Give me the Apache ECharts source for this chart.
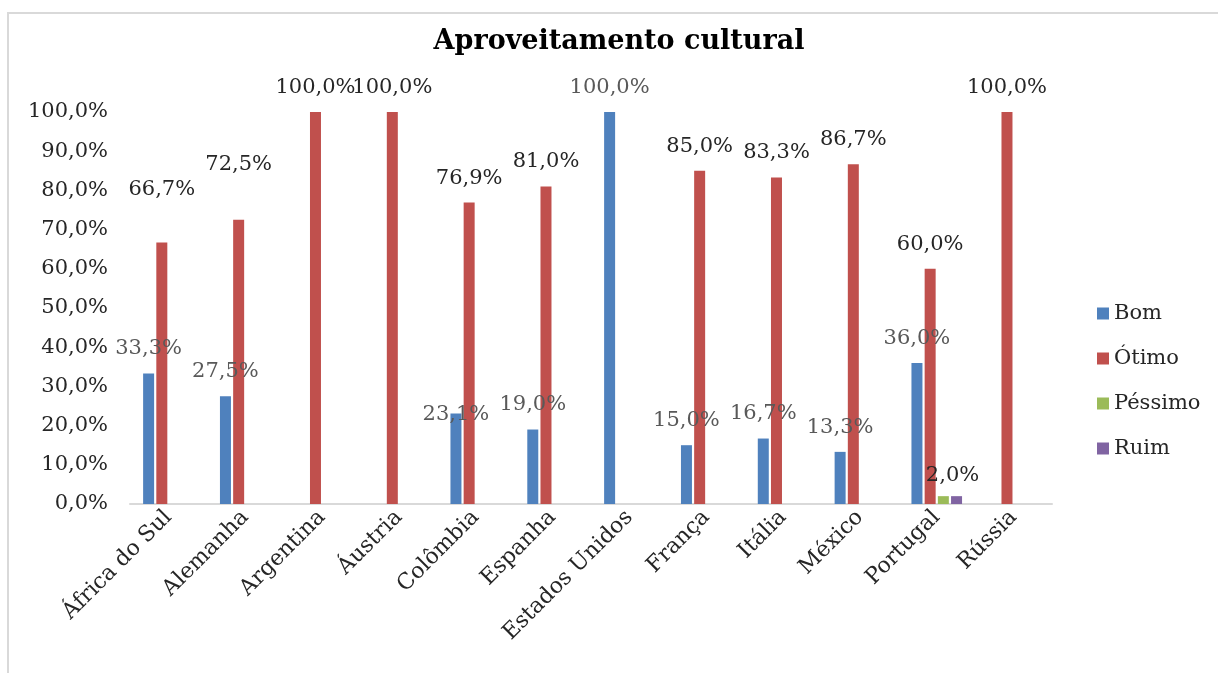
<!DOCTYPE html>
<html>
<head>
<meta charset="utf-8">
<title>Aproveitamento cultural</title>
<script src="https://cdn.jsdelivr.net/npm/echarts@6/dist/echarts.min.js"></script>
<style>
  html, body { margin: 0; padding: 0; background: #fff; }
  #frame { position: absolute; left: 7px; top: 12px; width: 1240px; height: 700px; border: 2px solid #d9d9d9; }
  #main { position: absolute; left: 0; top: 0; width: 1218px; height: 673px; }
</style>
</head>
<body>
<div id="frame"></div>
<div id="main"></div>
<script>
// dados do gráfico
var paises = ['África do Sul', 'Alemanha', 'Argentina', 'Áustria', 'Colômbia', 'Espanha',
  'Estados Unidos', 'França', 'Itália', 'México', 'Portugal', 'Rússia'];
var bom = [33.3, 27.5, null, null, 23.1, 19.0, 100.0, 15.0, 16.7, 13.3, 36.0, null];
var otimo = [66.7, 72.5, 100.0, 100.0, 76.9, 81.0, null, 85.0, 83.3, 86.7, 60.0, 100.0];
var pessimo = [null, null, null, null, null, null, null, null, null, null, 2.0, null];
var ruim = [null, null, null, null, null, null, null, null, null, null, 2.0, null];
var yTicks = [0, 10, 20, 30, 40, 50, 60, 70, 80, 90, 100];

var fonte = '"DejaVu Serif", "Liberation Serif", serif';

function pct(v) {
  return v.toFixed(1).replace('.', ',') + '%';
}

// monta os itens; alguns rótulos foram deslocados à mão no original
function itens(valores, ajustes) {
  return valores.map(function (v, i) {
    if (v == null) return null;
    var item = { value: v };
    if (ajustes && ajustes[i]) item.label = { offset: ajustes[i] };
    return item;
  });
}

var myChart = echarts.init(document.getElementById('main'));

var rotulo = {
  show: true,
  position: 'top',
  distance: 14,
  fontFamily: fonte,
  fontSize: 21,
  formatter: function (p) { return pct(p.value); }
};

myChart.setOption({
  animation: false,
  title: {
    text: 'Aproveitamento cultural',
    left: 614,
    textAlign: 'center',
    top: 23,
    textStyle: { fontFamily: fonte, fontWeight: 'bold', fontSize: 27, color: '#000' }
  },
  legend: {
    orient: 'vertical',
    left: 1092,
    top: 298,
    itemWidth: 12,
    itemHeight: 12,
    itemGap: 24,
    icon: 'rect',
    textStyle: { fontFamily: fonte, fontSize: 21, color: '#262626' },
    data: ['Bom', 'Ótimo', 'Péssimo', 'Ruim']
  },
  grid: { left: 130, right: 166, top: 112, bottom: 169, containLabel: false },
  xAxis: {
    type: 'category',
    data: paises,
    axisLine: { lineStyle: { color: '#d9d9d9', width: 2 } },
    axisTick: { show: false },
    axisLabel: {
      rotate: 45,
      interval: 0,
      margin: 10,
      fontFamily: fonte,
      fontSize: 22,
      color: '#262626'
    }
  },
  yAxis: {
    type: 'value',
    min: yTicks[0],
    max: yTicks[yTicks.length - 1],
    interval: 10,
    splitLine: { show: false },
    axisLine: { show: false },
    axisTick: { show: false },
    axisLabel: {
      margin: 22,
      fontFamily: fonte,
      fontSize: 21,
      color: '#262626',
      formatter: function (v) { return pct(v); }
    }
  },
  series: [
    {
      name: 'Bom', type: 'bar', barWidth: 11, barGap: '20%',
      itemStyle: { color: '#4f81bd' },
      label: Object.assign({}, rotulo, { color: '#595959' }),
      data: itens(bom, { 4: [0, 26] })
    },
    {
      name: 'Ótimo', type: 'bar', barWidth: 11, barGap: '20%',
      itemStyle: { color: '#c0504d' },
      label: Object.assign({}, rotulo, { color: '#262626' }),
      data: itens(otimo, { 0: [0, -28], 1: [0, -31] })
    },
    {
      name: 'Péssimo', type: 'bar', barWidth: 11, barGap: '20%',
      itemStyle: { color: '#9bbb59' },
      data: itens(pessimo)
    },
    {
      name: 'Ruim', type: 'bar', barWidth: 11, barGap: '20%',
      itemStyle: { color: '#8064a2' },
      label: Object.assign({}, rotulo, { color: '#262626', distance: 10, offset: [-4, 0] }),
      data: itens(ruim)
    }
  ]
});
</script>
</body>
</html>
